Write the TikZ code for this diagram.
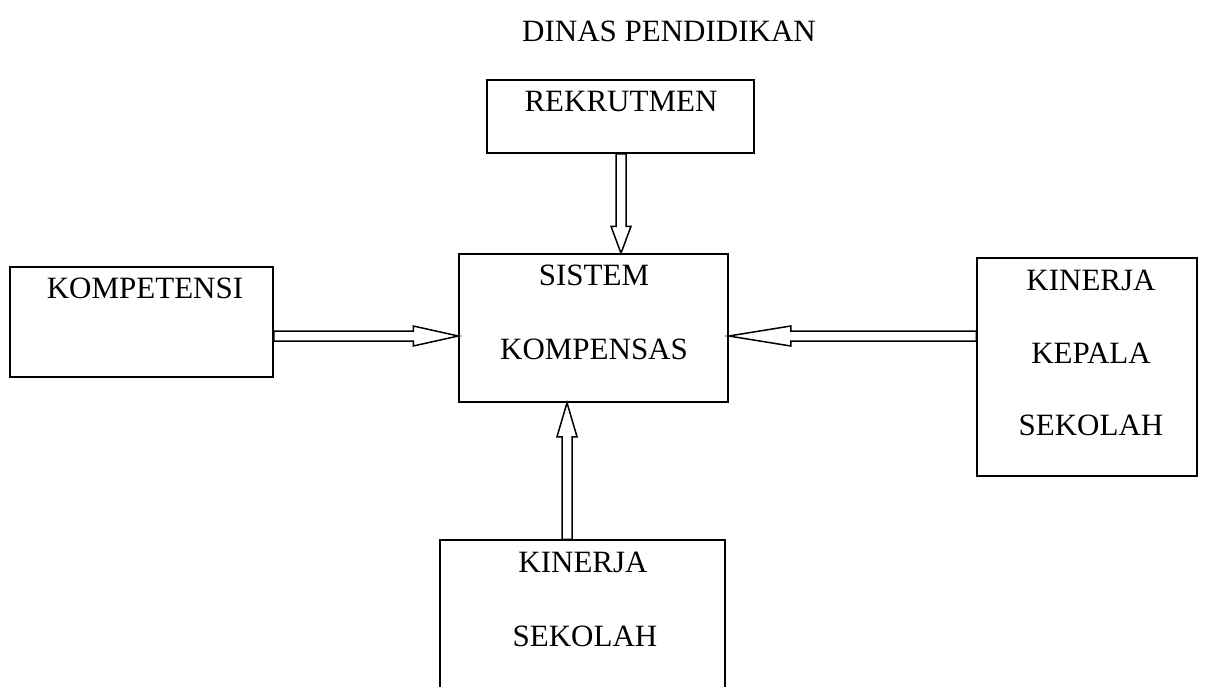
\documentclass[tikz,border=0pt]{standalone}
\usepackage{fontspec}
\setmainfont{Liberation Serif}
\usetikzlibrary{calc}
\tikzset{
  box/.style={draw, line width=1.5pt, inner sep=0pt},
  txt/.style={font=\fontsize{31}{36}\selectfont, inner sep=0pt, anchor=center},
  blk/.style={draw, line width=1.5pt, fill=white, line join=miter},
}
% #1 start, #2 end, #3 head length
\newcommand\blockarrow[3]{%
  \draw[blk] let \p1=(#1), \p2=(#2),
    \n1={atan2(\y2-\y1,\x2-\x1)}, \n2={veclen(\x2-\x1,\y2-\y1)} in
    ($(\p1)+(\n1+90:5pt)$) --
    ($(\p1)+(\n1:\n2-#3)+(\n1+90:5pt)$) --
    ($(\p1)+(\n1:\n2-#3)+(\n1+90:10pt)$) --
    (\p2) --
    ($(\p1)+(\n1:\n2-#3)+(\n1-90:10pt)$) --
    ($(\p1)+(\n1:\n2-#3)+(\n1-90:5pt)$) --
    ($(\p1)+(\n1-90:5pt)$) -- cycle;}
\begin{document}
\begin{tikzpicture}[x=1pt,y=-1pt]
\useasboundingbox (0,0) rectangle (1208,686);
\clip (0,0) rectangle (1208,686);
\fill[white] (0,0) rectangle (1208,686);

\node[txt] (title) at (669,31) {DINAS PENDIDIKAN};

\node[box, minimum width=267pt, minimum height=73pt] (rek) at (620.5,116.5) {};
\node[txt] (rekt) at (621,101) {REKRUTMEN};

\node[box, minimum width=269pt, minimum height=148pt] (sis) at (593.5,328) {};
\node[txt] (sis1) at (594,275) {SISTEM};
\node[txt] (sis2) at (594,349) {KOMPENSAS};

\node[box, minimum width=263pt, minimum height=110pt] (komp) at (141.5,322) {};
\node[txt] (kompt) at (145,288) {KOMPETENSI};

\node[box, minimum width=220pt, minimum height=218pt] (kks) at (1087,367) {};
\node[txt] (kks1) at (1091,280) {KINERJA};
\node[txt] (kks2) at (1091,353) {KEPALA};
\node[txt] (kks3) at (1091,425) {SEKOLAH};

\node[box, minimum width=285pt, minimum height=200pt] (ks) at (582.5,640) {};
\node[txt] (ks1) at (583,562) {KINERJA};
\node[txt] (ks2) at (585,636) {SEKOLAH};

\coordinate (d1) at (rek.south -| 621,0);
\coordinate (d2) at (sis.north -| 621,0);
\blockarrow{d1}{d2}{27pt}

\coordinate (r1) at (komp.east |- 0,336);
\coordinate (r2) at (sis.west |- 0,336);
\blockarrow{r1}{r2}{45pt}

\coordinate (l1) at (kks.west |- 0,336);
\coordinate (l2) at (sis.east |- 0,336);
\blockarrow{l1}{l2}{62pt}

\coordinate (u1) at (ks.north -| 567,0);
\coordinate (u2) at (sis.south -| 567,0);
\blockarrow{u1}{u2}{34pt}
\end{tikzpicture}
\end{document}
